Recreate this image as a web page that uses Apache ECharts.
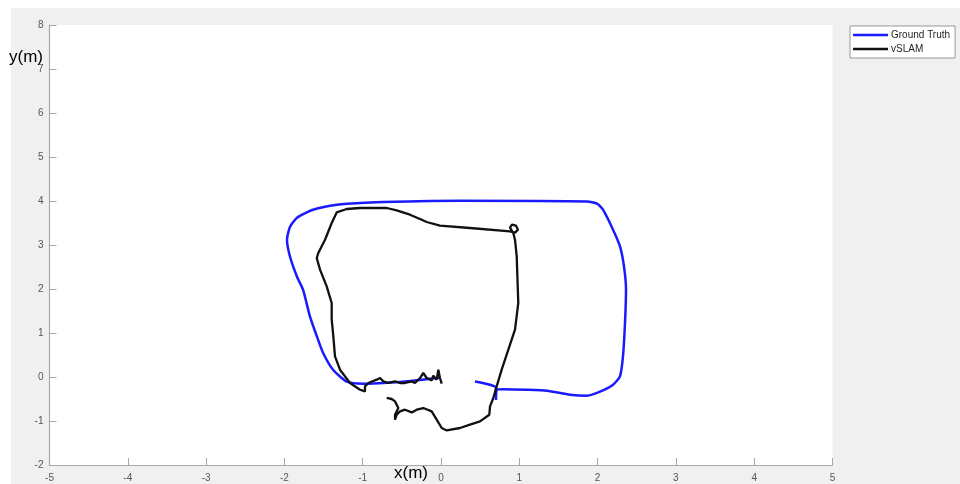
<!DOCTYPE html>
<html>
<head>
<meta charset="utf-8">
<script src="https://cdn.jsdelivr.net/npm/echarts@6/dist/echarts.min.js"></script>
<style>
  html, body { margin: 0; padding: 0; background: #ffffff; }
  #wrap { position: relative; width: 960px; height: 484px; overflow: hidden; background: #ffffff; }
  #bg { position: absolute; left: 11px; top: 8px; width: 949px; height: 476px; background: #f0f0f0; }
  #chart { position: absolute; left: 0; top: 0; width: 960px; height: 484px; }
</style>
</head>
<body>
<div id="wrap"><div id="bg"></div><div id="chart"></div></div>
<script>
// Axis settings
const xTicks = [-5, -4, -3, -2, -1, 0, 1, 2, 3, 4, 5];
const yTicks = [-2, -1, 0, 1, 2, 3, 4, 5, 6, 7, 8];
const seriesNames = ['Ground Truth', 'vSLAM'];

// Ground Truth trajectory [x, y] in metres
const groundTruth = [
  [0.434, -0.10], [0.626, -0.175], [0.702, -0.243], [0.702, -0.52], [0.715, -0.29],
  [0.792, -0.277], [1.098, -0.289], [1.354, -0.311], [1.648, -0.402], [1.865, -0.425],
  [2.031, -0.334], [2.197, -0.175], [2.286, 0.014], [2.324, 0.468], [2.350, 1.234],
  [2.363, 1.984], [2.337, 2.514], [2.286, 2.968], [2.197, 3.348], [2.069, 3.802],
  [1.992, 3.939], [1.865, 3.991], [0.243, 4.007], [-0.907, 3.968], [-1.328, 3.916],
  [-1.635, 3.802], [-1.839, 3.620], [-1.928, 3.416], [-1.967, 3.120], [-1.928, 2.734],
  [-1.839, 2.280], [-1.762, 1.984], [-1.673, 1.370], [-1.584, 0.916], [-1.507, 0.552],
  [-1.379, 0.166], [-1.201, -0.107], [-0.996, -0.152], [-0.690, -0.130], [-0.358, -0.084],
  [-0.013, -0.016]
];

// vSLAM trajectory [x, y] in metres
const vslam = [
  [-0.693, -0.477], [-0.630, -0.500], [-0.587, -0.555], [-0.545, -0.705], [-0.587, -0.857],
  [-0.587, -0.970], [-0.566, -0.857], [-0.524, -0.782], [-0.460, -0.743], [-0.374, -0.805],
  [-0.310, -0.743], [-0.226, -0.705], [-0.119, -0.782], [-0.055, -0.970], [0.009, -1.159],
  [0.073, -1.214], [0.243, -1.159], [0.370, -1.084], [0.498, -1.009], [0.617, -0.857],
  [0.626, -0.668], [0.668, -0.477], [0.711, -0.214], [0.775, 0.166], [0.860, 0.620],
  [0.945, 1.075], [0.987, 1.682], [0.967, 2.741], [0.945, 3.120], [0.923, 3.273],
  [0.881, 3.393], [0.907, 3.464], [0.958, 3.439], [0.983, 3.348], [0.945, 3.280],
  [0.881, 3.309], [0.370, 3.386], [-0.013, 3.439], [-0.183, 3.523], [-0.246, 3.575],
  [-0.396, 3.689], [-0.566, 3.786], [-0.693, 3.841], [-0.907, 3.841], [-1.034, 3.841],
  [-1.204, 3.818], [-1.332, 3.741], [-1.396, 3.500], [-1.481, 3.120], [-1.567, 2.818],
  [-1.587, 2.705], [-1.545, 2.439], [-1.460, 2.059], [-1.396, 1.682], [-1.396, 1.302],
  [-1.375, 0.923], [-1.354, 0.468], [-1.290, 0.166], [-1.162, -0.136], [-1.034, -0.289],
  [-0.971, -0.327], [-0.971, -0.214], [-0.928, -0.136], [-0.821, -0.061], [-0.779, -0.023],
  [-0.737, -0.100], [-0.673, -0.136], [-0.587, -0.100], [-0.524, -0.136], [-0.460, -0.136],
  [-0.374, -0.100], [-0.332, -0.136], [-0.268, -0.023], [-0.226, 0.091], [-0.183, -0.023],
  [-0.119, -0.077], [-0.098, 0.030], [-0.055, -0.061], [-0.034, 0.166], [-0.013, -0.023],
  [0.009, -0.152]
];

const chart = echarts.init(document.getElementById('chart'), null, { renderer: 'canvas' });
const axisColor = '#a8a8a8';
const labelColor = '#555555';
const fontFam = 'Liberation Sans, Arial, sans-serif';
chart.setOption({
  backgroundColor: 'transparent',
  animation: false,
  grid: {
    left: 49.5, top: 25, width: 783, height: 440,
    show: true, backgroundColor: '#ffffff', borderWidth: 0
  },
  legend: {
    left: 850, top: 26, orient: 'vertical',
    data: seriesNames,
    icon: 'rect', itemWidth: 35, itemHeight: 2.5, itemGap: 4,
    padding: [4, 5, 4, 3],
    backgroundColor: '#ffffff', borderColor: '#999999', borderWidth: 1, borderRadius: 0,
    textStyle: { fontSize: 10, color: '#262626', fontFamily: fontFam, padding: [0, 0, 0, -2] }
  },
  xAxis: {
    type: 'value', min: xTicks[0], max: xTicks[xTicks.length - 1], interval: 1,
    axisLine: { onZero: false, lineStyle: { color: axisColor, width: 1.2 } },
    axisTick: { inside: true, length: 7, lineStyle: { color: axisColor } },
    axisLabel: { color: labelColor, fontSize: 10, margin: 8, fontFamily: fontFam },
    splitLine: { show: false }
  },
  yAxis: {
    type: 'value', min: yTicks[0], max: yTicks[yTicks.length - 1], interval: 1,
    axisLine: { show: true, onZero: false, lineStyle: { color: axisColor, width: 1.2 } },
    axisTick: { show: true, inside: true, length: 7, lineStyle: { color: axisColor } },
    axisLabel: { color: labelColor, fontSize: 10, margin: 6, fontFamily: fontFam },
    splitLine: { show: false }
  },
  graphic: [
    { type: 'text', left: 9, top: 49, z: 100, style: { text: 'y(m)', fontSize: 17, fill: '#000', fontFamily: fontFam } },
    { type: 'text', left: 394, top: 465, z: 100, style: { text: 'x(m)', fontSize: 17, fill: '#000', fontFamily: fontFam } }
  ],
  series: [
    {
      name: seriesNames[0], type: 'line', data: groundTruth, showSymbol: false, symbol: 'none',
      smooth: 0.2, lineStyle: { color: '#1a1aff', width: 2.5 }, itemStyle: { color: '#1a1aff' }, z: 2
    },
    {
      name: seriesNames[1], type: 'line', data: vslam, showSymbol: false, symbol: 'none',
      lineStyle: { color: '#111111', width: 2.3 }, itemStyle: { color: '#111111' }, z: 3
    }
  ]
});
</script>
</body>
</html>
